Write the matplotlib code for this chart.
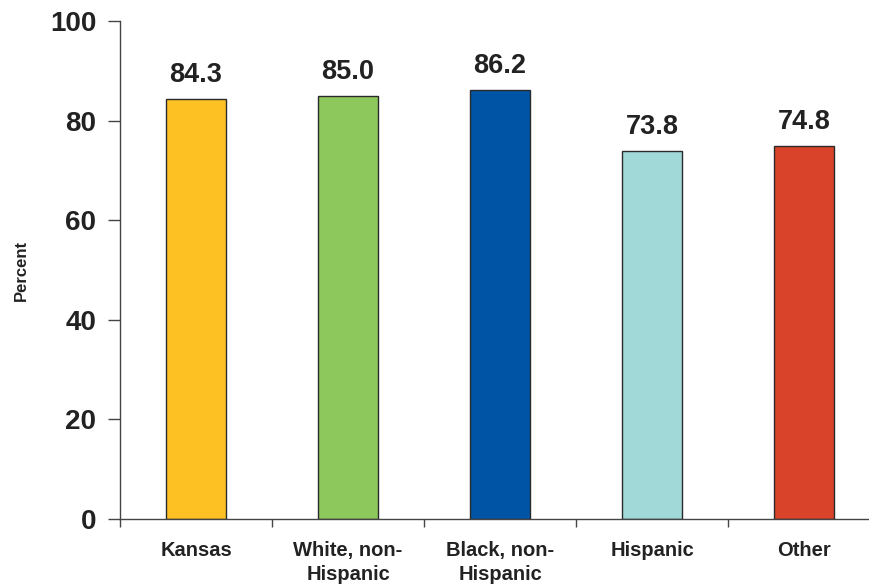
import matplotlib
matplotlib.use("Agg")
import matplotlib.pyplot as plt

categories = ["Kansas", "White, non-\nHispanic", "Black, non-\nHispanic", "Hispanic", "Other"]
values = [84.3, 85.0, 86.2, 73.8, 74.8]
colors = ["#FEC124", "#8CC85C", "#0054A5", "#A1D9D9", "#D84329"]
yticks = [0, 20, 40, 60, 80, 100]

plt.rcParams["font.family"] = ["Liberation Sans", "DejaVu Sans"]

W, H = 869, 584
fig = plt.figure(figsize=(W / 100, H / 100), dpi=100)
ax = fig.add_axes([120 / W, 65 / H, 760 / W, 498 / H])

x = list(range(len(categories)))
bars = ax.bar(x, values, width=0.395, color=colors, edgecolor="#2a2a2a", linewidth=1.0)

for xi, v in zip(x, values):
    ax.annotate(f"{v:.1f}", (xi, v), xytext=(0, 8), textcoords="offset points",
                ha="center", va="bottom", fontsize=19.5, fontweight="bold", color="#222222")

ax.set_xlim(-0.5, len(categories) - 0.5)
ax.set_ylim(0, 100)
ax.set_yticks(yticks)
ax.set_yticklabels([str(t) for t in yticks], fontsize=20, fontweight="bold", color="#222222")
ax.set_xticks(x)
ax.set_xticklabels(categories, fontsize=14.5, fontweight="bold", color="#222222", linespacing=1.3)
ax.set_xticks([i - 0.5 for i in range(len(categories) + 1)], minor=True)
ax.tick_params(axis="x", which="major", length=0, pad=16)
ax.tick_params(axis="x", which="minor", length=6, width=1, color="#444444", direction="out")
ax.tick_params(axis="y", length=9, width=1, color="#444444", direction="out", pad=8)

for side in ["top", "right"]:
    ax.spines[side].set_visible(False)
for side in ["left", "bottom"]:
    ax.spines[side].set_color("#444444")
    ax.spines[side].set_linewidth(1)

fig.text(21 / W, 1 - 270 / H, "Percent", rotation=90, ha="center", va="center",
         fontsize=12, fontweight="bold", color="#222222")

fig.savefig("out.png", dpi=100)
